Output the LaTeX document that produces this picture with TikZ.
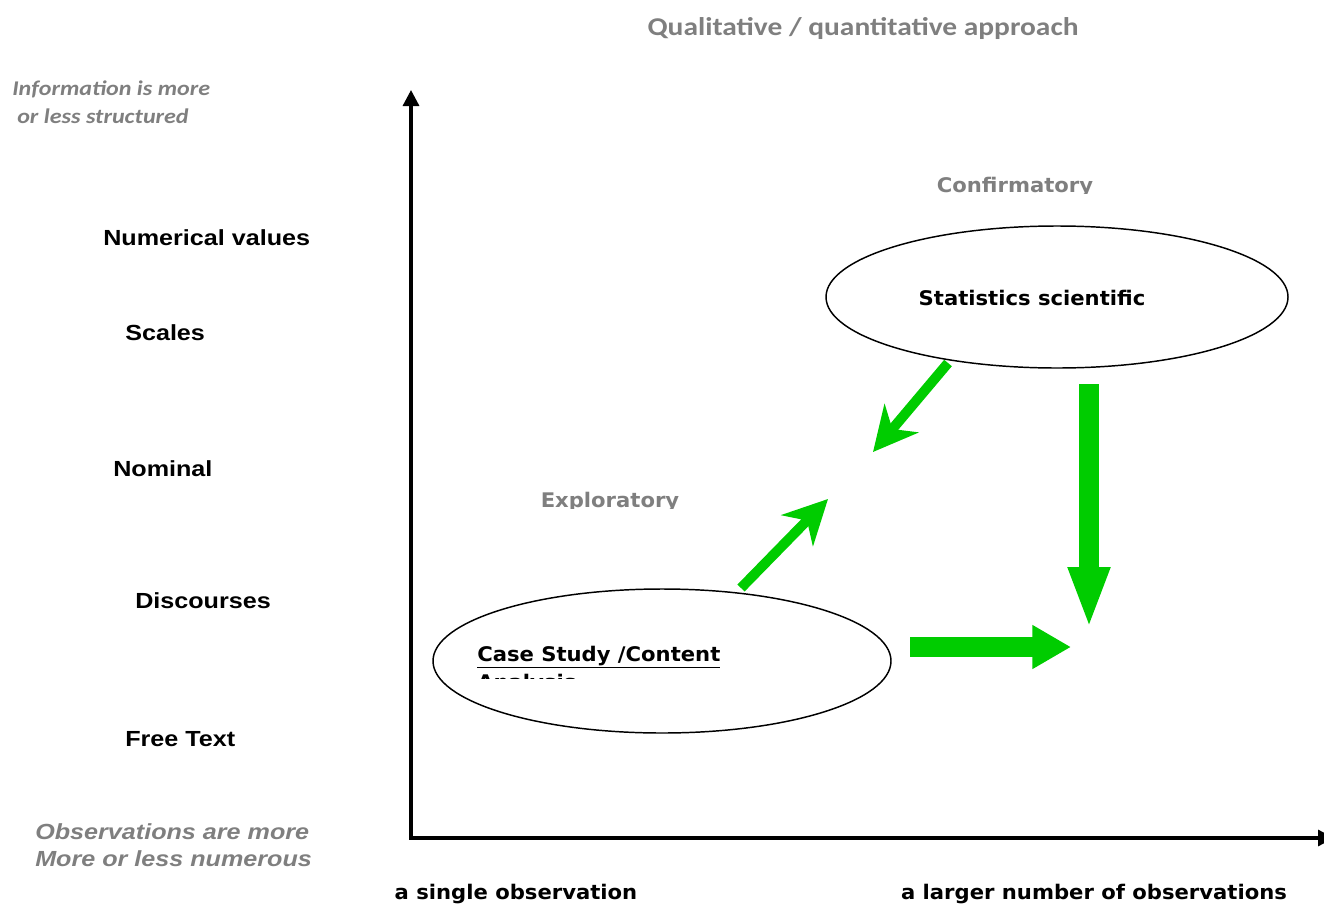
\documentclass[tikz,border=0pt]{standalone}
\usepackage{fontspec}
\usetikzlibrary{arrows.meta,shapes.geometric}
\newfontfamily\calibrifont[FakeStretch=1.15]{Carlito}
\newfontfamily\arialfont[FakeStretch=1.15]{Liberation Sans}
\newfontfamily\tahomafont[FakeStretch=1.05]{DejaVu Sans}
\definecolor{titlegray}{HTML}{7F7F7F}
\definecolor{arrowgreen}{HTML}{00CC00}
\tikzset{
  level/.style={anchor=base west, inner sep=0pt, font=\arialfont\bfseries\fontsize{16.4pt}{19pt}\selectfont},
  note/.style={anchor=base west, inner sep=0pt, text=titlegray, font=\arialfont\bfseries\itshape\fontsize{16.4pt}{19pt}\selectfont},
  info/.style={anchor=base west, inner sep=0pt, text=titlegray, font=\calibrifont\bfseries\itshape\fontsize{15.7pt}{19pt}\selectfont},
  phase/.style={anchor=base, inner sep=0pt, text=titlegray, font=\tahomafont\bfseries\fontsize{15.1pt}{18pt}\selectfont},
  method/.style={inner sep=0pt, font=\tahomafont\bfseries\fontsize{15.1pt}{18pt}\selectfont},
  oval/.style={draw, ellipse, line width=1.1pt, inner sep=0pt},
  axis/.style={line width=2.4pt, line join=miter, {Triangle[length=12pt,width=12pt]}-{Triangle[length=12pt,width=12pt]}},
  thinarrow/.style={draw=arrowgreen, line width=7.5pt, -{Stealth[length=33pt,width=33pt,inset=10.5pt,fill=arrowgreen]}},
  fatarrow/.style={draw=arrowgreen, line width=15pt}
}
\begin{document}
\begin{tikzpicture}[x=0.75pt,y=-0.75pt]
    \useasboundingbox (0,0) rectangle (1324,903);

    % headings
    \node[anchor=base, inner sep=0pt, text=titlegray, font=\calibrifont\bfseries\fontsize{19.2pt}{22pt}\selectfont] (title) at (863,36) {Qualitative / quantitative approach};
    \node[info] (info1) at (12,95) {Information is more};
    \node[info] (info2) at (17,123) {or less structured};

    % levels of the vertical axis
    \node[level] (numerical) at (103,245) {Numerical values};
    \node[level] (scales) at (125,340) {Scales};
    \node[level] (nominal) at (113,476) {Nominal};
    \node[level] (discourses) at (135,608) {Discourses};
    \node[level] (freetext) at (125,746) {Free Text};

    \node[note] (obs1) at (35,839) {Observations are more};
    \node[note] (obs2) at (35,866) {More or less numerous};

    % axes
    \coordinate (ytop) at (411,90);
    \coordinate (origin) at (411,838);
    \coordinate (xend) at (1334,838);
    \draw[axis] (ytop) -- (origin) -- (xend);

    \node[method, anchor=base] (single) at (516,899) {a single observation};
    \node[method, anchor=base] (larger) at (1094,899) {a larger number of observations};

    % confirmatory side
    \begin{scope}
        \clip (900,160) rectangle (1130,193);
        \node[phase] (confirm) at (1015,192) {Confirmatory};
    \end{scope}
    \node[oval, minimum width=346.5pt, minimum height=106.5pt] (stats) at (1057,297) {};
    \node[method, anchor=base] (statstext) at (1032,305) {Statistics scientific};

    % exploratory side
    \begin{scope}
        \clip (500,470) rectangle (720,508);
        \node[phase] (explore) at (610,507) {Exploratory};
    \end{scope}
    \node[oval, minimum width=343.5pt, minimum height=108pt] (case) at (662,661) {};
    \node[method, anchor=base west] (casetext) at (477,661) {\underline{Case Study /Content}};
    \begin{scope}
        \clip (470,640) rectangle (760,678);
        \node[method, anchor=base west] (analysis) at (477,689) {Analysis};
    \end{scope}

    % green arrows
    \coordinate (a) at (948,363);
    \coordinate (a') at (873,452);
    \coordinate (b) at (741,588);
    \coordinate (b') at (828,499);
    \coordinate (c) at (1089,384);
    \coordinate (c') at (1089,629);
    \coordinate (d) at (910,647);
    \coordinate (d') at (1071,647);

    \draw[thinarrow] (a) -- (a');
    \draw[thinarrow] (b) -- (b');
    \draw[fatarrow, -{Triangle[length=46.5pt,width=28.5pt]}] (c) -- (c');
    \draw[fatarrow, -{Triangle[length=29pt,width=31pt]}] (d) -- (d');
\end{tikzpicture}
\end{document}
